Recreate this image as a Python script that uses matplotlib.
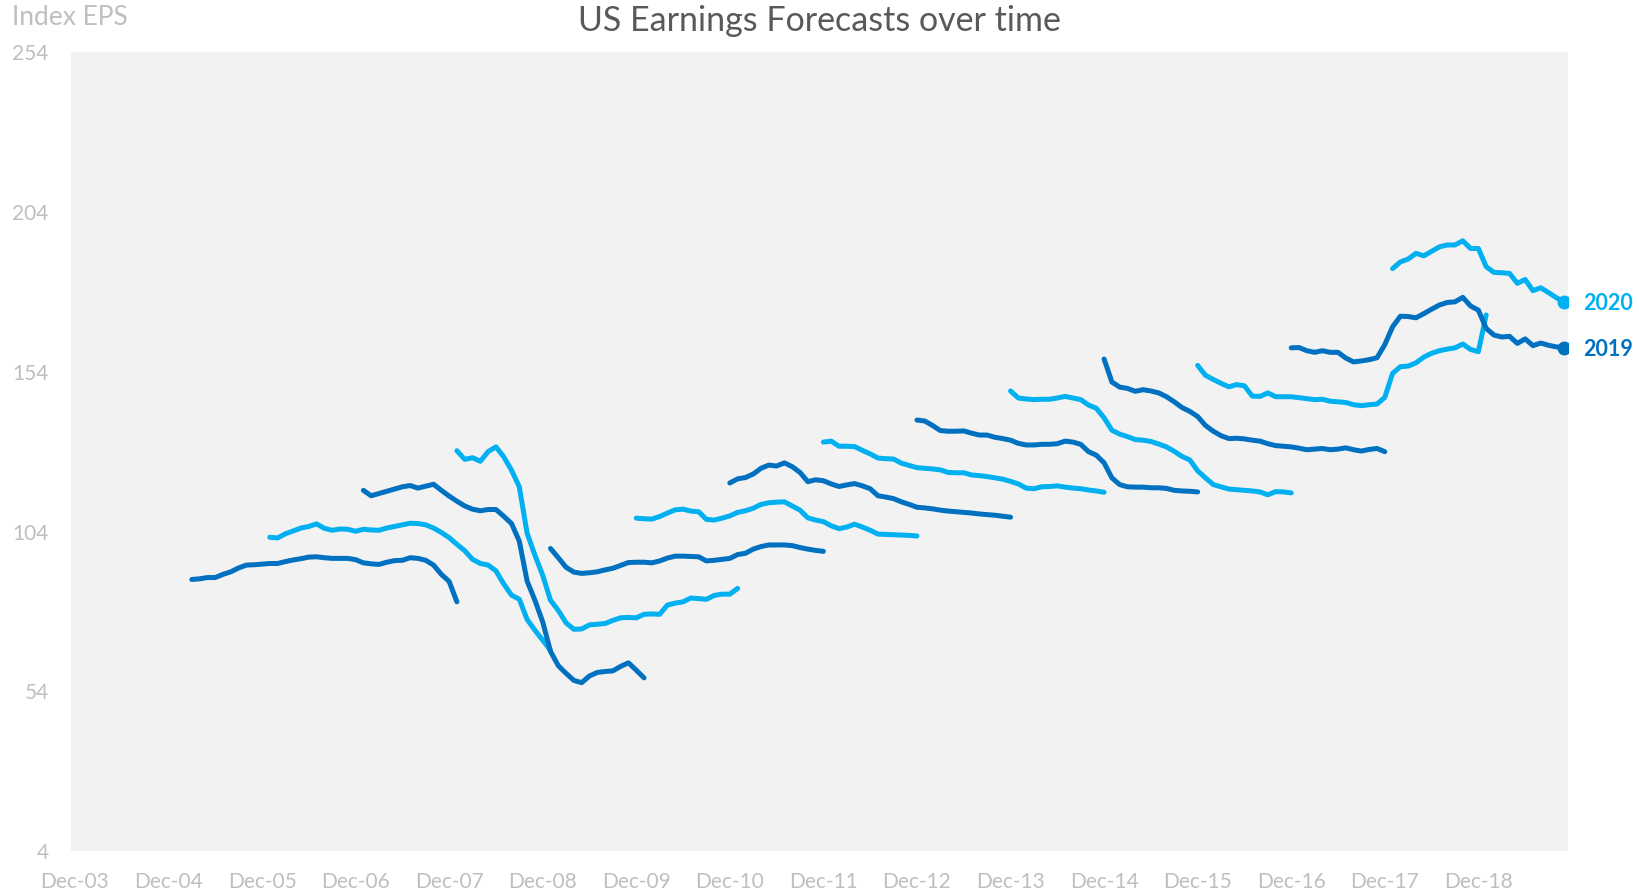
import matplotlib.pyplot as plt
import pandas as pd

# monthly index EPS forecasts, one list per calendar year being forecast
eps_2007 = [89.0, 89.2, 89.6, 89.6, 90.6, 91.4, 92.6, 93.5, 93.6, 93.8,
            94.0, 94.0, 94.6, 95.1, 95.5, 96.0, 96.1, 95.8, 95.6, 95.6,
            95.6, 95.2, 94.2, 93.9, 93.7, 94.4, 94.9, 95.0, 95.8, 95.6,
            95.0, 93.5, 90.6, 88.4, 82.0]
eps_2008 = [102.2, 102.0, 103.3, 104.2, 105.1, 105.6, 106.4, 105.0, 104.4, 104.8,
            104.7, 104.1, 104.7, 104.5, 104.4, 105.1, 105.6, 106.1, 106.6, 106.5,
            106.1, 105.1, 103.7, 102.1, 100.0, 98.0, 95.3, 94.0, 93.5, 91.7,
            87.6, 84.1, 82.8, 76.5, 73.1, 70.0, 66.8]
eps_2009 = [116.9, 115.2, 115.9, 116.6, 117.3, 118.0, 118.4, 117.6, 118.2, 118.8,
            116.9, 115.1, 113.5, 112.0, 111.0, 110.5, 110.9, 110.9, 108.8, 106.5,
            101.0, 88.5, 82.5, 75.7, 66.5, 62.0, 59.6, 57.4, 56.7, 58.8,
            59.9, 60.2, 60.4, 61.8, 62.9, 60.6, 58.2]
eps_2010 = [129.3, 126.6, 127.1, 126.0, 129.0, 130.5, 127.4, 123.2, 118.0, 103.5,
            96.6, 90.3, 82.5, 79.3, 75.4, 73.4, 73.5, 74.8, 75.0, 75.2,
            76.2, 77.0, 77.1, 77.0, 78.1, 78.2, 78.1, 81.0, 81.6, 82.0,
            83.2, 83.0, 82.8, 84.0, 84.4, 84.4, 86.2]
eps_2011 = [98.7, 95.8, 92.8, 91.3, 90.9, 91.1, 91.4, 92.0, 92.5, 93.4,
            94.3, 94.4, 94.4, 94.2, 94.8, 95.7, 96.3, 96.3, 96.2, 96.1,
            94.8, 95.0, 95.3, 95.6, 96.8, 97.2, 98.5, 99.3, 99.8, 99.8,
            99.8, 99.6, 99.0, 98.5, 98.1, 97.8]
eps_2012 = [108.2, 108.0, 107.9, 108.7, 109.8, 110.8, 111.0, 110.4, 110.2, 107.8,
            107.6, 108.2, 108.9, 110.0, 110.5, 111.3, 112.5, 113.0, 113.2, 113.3,
            112.0, 110.7, 108.3, 107.6, 107.1, 105.8, 104.9, 105.4, 106.3, 105.4,
            104.4, 103.2, 103.1, 103.0, 102.9, 102.8, 102.6]
eps_2013 = [119.2, 120.5, 120.9, 122.0, 123.8, 124.8, 124.5, 125.5, 124.3, 122.5,
            119.6, 120.2, 119.9, 118.9, 118.1, 118.6, 119.0, 118.3, 117.4, 115.2,
            114.8, 114.3, 113.3, 112.5, 111.6, 111.4, 111.1, 110.7, 110.4, 110.2,
            110.0, 109.8, 109.5, 109.3, 109.1, 108.8, 108.5]
eps_2014 = [132.0, 132.3, 130.7, 130.7, 130.6, 129.4, 128.3, 127.0, 126.8, 126.7,
            125.4, 124.7, 124.0, 123.8, 123.6, 123.3, 122.5, 122.4, 122.4, 121.7,
            121.5, 121.2, 120.8, 120.4, 119.7, 118.9, 117.6, 117.4, 118.0, 118.1,
            118.3, 117.9, 117.6, 117.4, 117.0, 116.7, 116.3]
eps_2015 = [138.9, 138.6, 137.2, 135.6, 135.4, 135.4, 135.5, 134.8, 134.2, 134.2,
            133.5, 133.1, 132.6, 131.6, 131.1, 131.1, 131.3, 131.3, 131.5, 132.3,
            132.0, 131.3, 129.0, 127.9, 125.5, 120.8, 118.7, 118.0, 117.9, 117.9,
            117.7, 117.7, 117.5, 116.9, 116.7, 116.6, 116.4]
eps_2016 = [148.0, 145.8, 145.5, 145.3, 145.4, 145.4, 145.8, 146.3, 145.8, 145.3,
            143.6, 142.6, 139.6, 135.7, 134.5, 133.7, 132.8, 132.6, 132.2, 131.4,
            130.5, 129.1, 127.5, 126.4, 123.0, 120.8, 118.7, 118.0, 117.3, 117.1,
            116.9, 116.7, 116.4, 115.5, 116.5, 116.4, 116.1]
eps_2017 = [158.0, 150.8, 149.2, 148.8, 147.9, 148.4, 148.0, 147.4, 146.2, 144.6,
            142.8, 141.6, 140.0, 137.2, 135.4, 134.0, 133.1, 133.2, 133.0, 132.6,
            132.3, 131.5, 130.9, 130.7, 130.5, 130.1, 129.6, 129.8, 130.0, 129.6,
            129.8, 130.2, 129.6, 129.2, 129.7, 130.0, 129.0]
eps_2018 = [156.0, 152.9, 151.6, 150.4, 149.3, 150.0, 149.6, 146.4, 146.3, 147.4,
            146.2, 146.2, 146.2, 145.9, 145.6, 145.3, 145.4, 144.8, 144.6, 144.4,
            143.7, 143.4, 143.7, 143.9, 146.0, 153.5, 155.6, 155.8, 156.8, 158.6,
            159.8, 160.6, 161.1, 161.5, 162.7, 161.0, 160.3, 171.8]
eps_2019 = [161.5, 161.6, 160.6, 160.1, 160.6, 160.1, 160.1, 158.3, 157.1, 157.4,
            157.8, 158.4, 162.5, 168.1, 171.4, 171.3, 170.9, 172.2, 173.6, 174.9,
            175.7, 175.9, 177.3, 174.6, 173.3, 167.6, 165.5, 164.9, 165.1, 162.9,
            164.3, 162.2, 163.0, 162.3, 161.8, 161.5]
eps_2020 = [186.3, 188.4, 189.3, 191.1, 190.3, 191.7, 193.1, 193.7, 193.7, 195.0,
            192.6, 192.6, 186.9, 185.1, 185.0, 184.8, 181.7, 182.9, 179.4, 180.3,
            178.8, 177.2, 175.9]

years = [2007, 2008, 2009, 2010, 2011, 2012, 2013, 2014, 2015, 2016, 2017, 2018, 2019, 2020]
first_month = ["2005-03", "2006-01", "2007-01", "2008-01", "2009-01", "2009-12", "2010-12",
               "2011-12", "2012-12", "2013-12", "2014-12", "2015-12", "2016-12", "2018-01"]
series = [eps_2007, eps_2008, eps_2009, eps_2010, eps_2011, eps_2012, eps_2013,
          eps_2014, eps_2015, eps_2016, eps_2017, eps_2018, eps_2019, eps_2020]
tick_labels = ["Dec-03", "Dec-04", "Dec-05", "Dec-06", "Dec-07", "Dec-08", "Dec-09", "Dec-10",
               "Dec-11", "Dec-12", "Dec-13", "Dec-14", "Dec-15", "Dec-16", "Dec-17", "Dec-18"]
y_ticks = [4, 54, 104, 154, 204, 254]

DARK = "#0070C0"
LIGHT = "#00B0F0"
GREY = "#BFBFBF"
FONT = ["Lato", "DejaVu Sans"]

plt.rcParams["font.family"] = FONT

origin = pd.Period("2003-12", "M")

fig = plt.figure(figsize=(16.39, 8.96), dpi=100)
ax = fig.add_axes([0.0433, 0.0502, 0.9134, 0.8914])
ax.set_facecolor("#F2F2F2")

for i, (year, start, vals) in enumerate(zip(years, first_month, series)):
    m0 = (pd.Period(start, "M") - origin).n
    xs = list(range(m0, m0 + len(vals)))
    color = DARK if i % 2 == 0 else LIGHT
    ax.plot(xs, vals, color=color, lw=3.6, solid_capstyle="round",
            solid_joinstyle="round", zorder=2)
    if year >= 2019:
        ax.plot(xs[-1], vals[-1], "o", color=color, ms=9, zorder=3)
        ax.annotate(str(year), (xs[-1], vals[-1]), xytext=(14, -1),
                    textcoords="offset points", ha="left", va="center",
                    color=color, fontsize=15.5, fontweight="bold",
                    annotation_clip=False)

ax.set_xlim(-0.5, 191.5)
ax.set_ylim(4, 254)
ax.set_xticks(range(0, 12 * len(tick_labels), 12))
ax.set_xticklabels(tick_labels)
ax.set_yticks(y_ticks)
ax.tick_params(length=0, colors=GREY, labelsize=15)
ax.tick_params(axis="y", pad=16)
ax.tick_params(axis="x", pad=15)
for s in ax.spines.values():
    s.set_visible(False)

fig.text(0.5, 0.977, "US Earnings Forecasts over time", ha="center", va="center",
         fontsize=24.5, color="#595959")
fig.text(0.0075, 0.981, "Index EPS", ha="left", va="center", fontsize=19, color=GREY)

fig.savefig("out.png", dpi=100)
